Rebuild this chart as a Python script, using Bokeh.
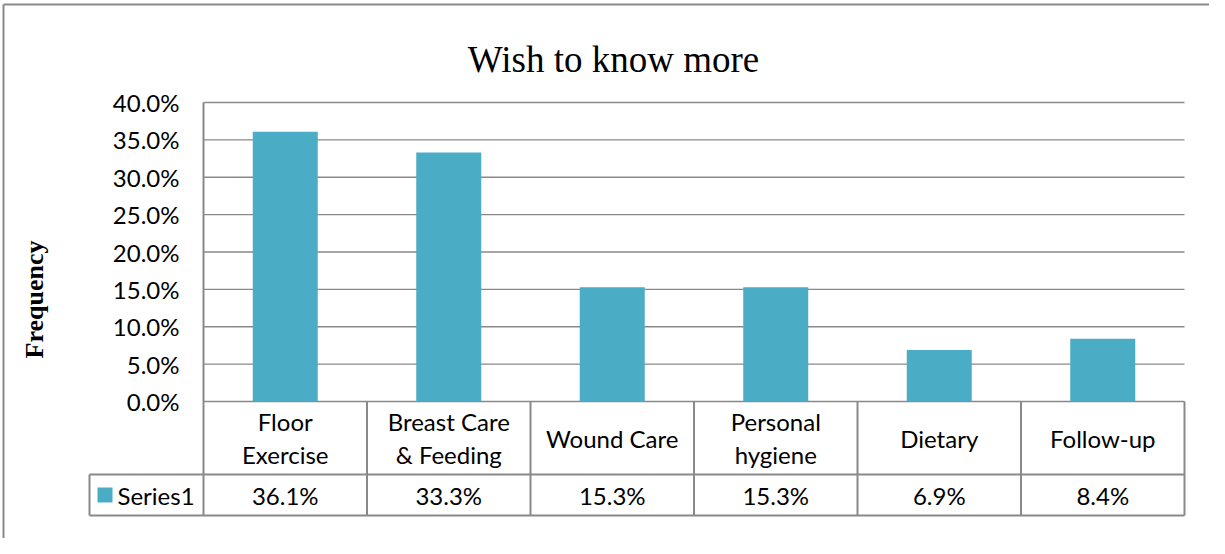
import math
from bokeh.plotting import figure
from bokeh.models import Range1d, ColumnDataSource
from bokeh.core.properties import value
from bokeh.embed import file_html
from bokeh.resources import INLINE

# ---- data ----
categories = ["Floor Exercise", "Breast Care & Feeding", "Wound Care",
              "Personal hygiene", "Dietary", "Follow-up"]
category_labels = ["Floor\nExercise", "Breast Care\n& Feeding", "Wound Care",
                   "Personal\nhygiene", "Dietary", "Follow-up"]
values = [36.1, 33.3, 15.3, 15.3, 6.9, 8.4]
y_ticks = [0, 5, 10, 15, 20, 25, 30, 35, 40]
series_name = "Series1"
title_text = "Wish to know more"
y_title = "Frequency"

# ---- layout helpers (page pixel -> data units) ----
COL = (1192 - 211) / 6.0
PPU = (409 - 110) / 40.0
def X(px):
    return (px - 211) / COL
def Y(py):
    return (409 - py) / PPU

W, H = 1209, 538
p = figure(width=W, height=H, output_backend="svg", toolbar_location=None,
           x_range=Range1d(X(8), X(8 + W)), y_range=Range1d(Y(8 + H), Y(8)),
           min_border=0, outline_line_color=None)
p.axis.visible = False
p.grid.visible = False
p.background_fill_color = "white"

n = len(categories)
GRID = "#898989"
BORDER = "#8a8a8a"
FS = "24px"

# outer chart border (extends beyond page)
p.segment(x0=[X(11), X(11)], y0=[Y(12), Y(12)], x1=[X(11), X(1300)], y1=[Y(700), Y(12)],
          line_color=BORDER, line_width=2)

# gridlines
p.segment(x0=[0] * len(y_ticks), y0=y_ticks, x1=[n] * len(y_ticks), y1=y_ticks,
          line_color=GRID, line_width=1.3)

# bars
src = ColumnDataSource(dict(x=[i + 0.5 for i in range(n)], top=values,
                            val=["%.1f%%" % v for v in values], lab=category_labels))
p.vbar(x="x", top="top", width=65 / COL, bottom=0, source=src,
       fill_color="#4BACC6", line_color=None)

# data table lines
yh = Y(482)
yb = Y(523)
xl = X(97)
p.segment(x0=[xl, xl], y0=[yh, yb], x1=[n, n], y1=[yh, yb], line_color=GRID, line_width=2)
p.segment(x0=[0], y0=[40], x1=[0], y1=[yb], line_color=GRID, line_width=2)
p.segment(x0=list(range(1, n + 1)), y0=[0] * n, x1=list(range(1, n + 1)), y1=[yb] * n,
          line_color=GRID, line_width=2)
p.segment(x0=[xl], y0=[yh], x1=[xl], y1=[yb], line_color=GRID, line_width=2)

# y tick labels
p.text(x=[X(187)] * len(y_ticks), y=y_ticks, text=["%.1f%%" % t for t in y_ticks],
       text_align="right", text_baseline="middle", text_font=value("Lato"),
       text_font_size=FS, text_color="black")

# category labels
p.text(x="x", y=Y(445.5), text="lab", source=src, text_align="center",
       text_baseline="middle", text_font=value("Lato"), text_font_size=FS,
       text_line_height=1.12, text_color="black")

# value row
p.text(x="x", y=Y(502.5), text="val", source=src, text_align="center",
       text_baseline="middle", text_font=value("Lato"), text_font_size=FS,
       text_color="black")

# legend key
p.scatter(x=[X(112.5)], y=[Y(502.5)], marker="square", size=15,
          fill_color="#4BACC6", line_color=None)
p.text(x=[X(125)], y=[Y(502.5)], text=[series_name], text_align="left",
       text_baseline="middle", text_font=value("Lato"), text_font_size=FS,
       text_color="black")

# title
p.text(x=[X(621)], y=[Y(67)], text=[title_text], text_align="center",
       text_baseline="alphabetic", text_font=value("Liberation Serif"),
       text_font_size="37px", text_color="black")

# y axis title
p.text(x=[X(42)], y=[Y(307)], text=[y_title], angle=math.pi / 2, text_align="center",
       text_baseline="middle", text_font=value("Liberation Serif"),
       text_font_size="26px", text_font_style="bold", text_color="black")

open("out.html", "w").write(file_html(p, INLINE))
